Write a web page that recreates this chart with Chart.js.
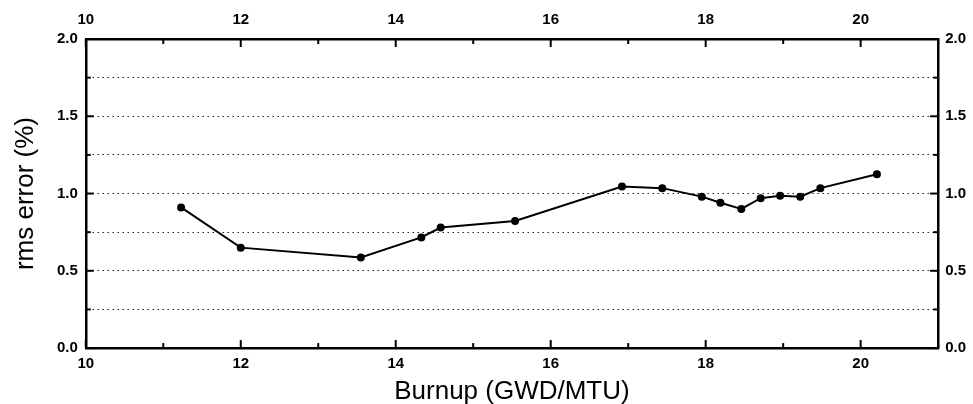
<!DOCTYPE html>
<html>
<head>
<meta charset="utf-8">
<script src="https://cdn.jsdelivr.net/npm/chart.js@4/dist/chart.umd.min.js"></script>
<style>
  html, body { margin: 0; padding: 0; background: #fff; }
  #wrap { width: 973px; height: 404px; }
</style>
</head>
<body>
<div id="wrap"><canvas id="rmsChart" width="973" height="404"></canvas></div>
<script>
// burnup (GWD/MTU) and rms error (%)
var burnup = [11.23, 12.0, 13.55, 14.33, 14.58, 15.54, 16.92, 17.44, 17.95, 18.19, 18.46, 18.71, 18.96, 19.22, 19.48, 20.21];
var rmsError = [0.91, 0.65, 0.586, 0.716, 0.78, 0.823, 1.045, 1.035, 0.98, 0.94, 0.90, 0.97, 0.985, 0.98, 1.035, 1.125];
var xLabels = [10, 12, 14, 16, 18, 20];
var yLabels = [0, 0.5, 1, 1.5, 2];

var points = [];
for (var i in burnup) {
    points.push({ x: burnup[i], y: rmsError[i] });
}

var tickFont = { family: "'Liberation Sans', Arial, sans-serif", size: 15, weight: "bold" };
var titleFont = { family: "'Liberation Sans', Arial, sans-serif", size: 26, lineHeight: 0.92 };

function xTick(v) {
    return xLabels.indexOf(v) >= 0 ? String(v) : "";
}
function yTick(v) {
    return yLabels.indexOf(v) >= 0 ? v.toFixed(1) : "";
}

// tick marks pointing into the plot, like the original
var inwardTicks = {
    id: "inwardTicks",
    afterDatasetsDraw: function (chart) {
        var c = chart.ctx;
        var a = chart.chartArea;
        c.save();
        c.strokeStyle = "#000";
        c.lineWidth = 2;
        ["x", "x2"].forEach(function (id) {
            var s = chart.scales[id];
            s.ticks.forEach(function (t) {
                var px = s.getPixelForValue(t.value);
                var len = xLabels.indexOf(t.value) >= 0 ? 8 : 5;
                c.beginPath();
                if (id === "x") {
                    c.moveTo(px, a.bottom);
                    c.lineTo(px, a.bottom - len);
                } else {
                    c.moveTo(px, a.top);
                    c.lineTo(px, a.top + len);
                }
                c.stroke();
            });
        });
        ["y", "y2"].forEach(function (id) {
            var s = chart.scales[id];
            s.ticks.forEach(function (t) {
                var py = s.getPixelForValue(t.value);
                var len = yLabels.indexOf(t.value) >= 0 ? 8 : 5;
                c.beginPath();
                if (id === "y") {
                    c.moveTo(a.left, py);
                    c.lineTo(a.left + len, py);
                } else {
                    c.moveTo(a.right, py);
                    c.lineTo(a.right - len, py);
                }
                c.stroke();
            });
        });
        c.restore();
    },
};

var ctx = document.getElementById("rmsChart").getContext("2d");
var chart = new Chart(ctx, {
    type: "line",
    data: {
        datasets: [
            {
                label: "rms error",
                data: points,
                borderColor: "#000",
                backgroundColor: "#000",
                borderWidth: 2,
                pointRadius: 3,
                pointStyle: "circle",
                fill: false,
                tension: 0,
            },
        ],
    },
    options: {
        responsive: false,
        animation: false,
        layout: { padding: { left: 14, right: 0, top: 1, bottom: 0 } },
        plugins: {
            legend: { display: false },
            tooltip: { enabled: false },
        },
        scales: {
            x: {
                type: "linear",
                position: "bottom",
                min: 10,
                max: 21,
                ticks: { stepSize: 1, callback: xTick, font: tickFont, color: "#000", padding: 7, maxRotation: 0, autoSkip: false },
                grid: { display: false, drawTicks: false },
                border: { display: true, color: "#000", width: 2.5 },
                title: { display: true, text: "Burnup (GWD/MTU)", font: titleFont, color: "#000", padding: { top: 0, bottom: 0 } },
            },
            x2: {
                type: "linear",
                position: "top",
                min: 10,
                max: 21,
                ticks: { stepSize: 1, callback: xTick, font: tickFont, color: "#000", padding: 10, maxRotation: 0, autoSkip: false },
                grid: { display: false, drawTicks: false },
                border: { display: true, color: "#000", width: 2.5 },
            },
            y: {
                position: "left",
                min: 0,
                max: 2,
                ticks: { stepSize: 0.25, callback: yTick, font: tickFont, color: "#000", padding: 8, autoSkip: false },
                grid: {
                    drawTicks: false,
                    lineWidth: 1,
                    color: function (c) {
                        var v = c.tick ? c.tick.value : 0;
                        return v > 0 && v < 2 ? "#222" : "rgba(0,0,0,0)";
                    },
                },
                border: { display: true, color: "#000", width: 2.5, dash: [1.5, 3.5] },
                title: { display: true, text: "rms error (%)", font: titleFont, color: "#000", padding: { top: 0, bottom: 11 } },
            },
            y2: {
                position: "right",
                min: 0,
                max: 2,
                ticks: { stepSize: 0.25, callback: yTick, font: tickFont, color: "#000", padding: 7, autoSkip: false },
                grid: { display: false, drawTicks: false },
                border: { display: true, color: "#000", width: 2.5 },
            },
        },
    },
    plugins: [inwardTicks],
});
</script>
</body>
</html>
